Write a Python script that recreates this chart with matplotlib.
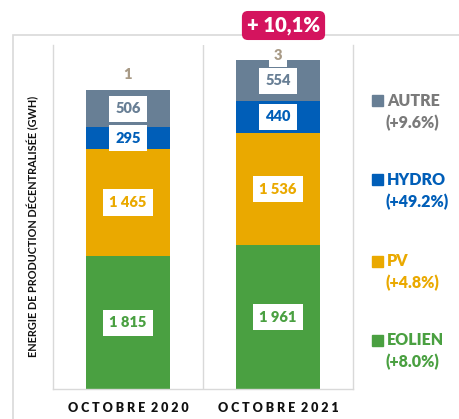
import numpy as np
import matplotlib.pyplot as plt
from matplotlib.patches import Rectangle

# data
months = ['OCTOBRE 2020', 'OCTOBRE 2021']
sources = ['EOLIEN', 'PV', 'HYDRO', 'AUTRE']
eolien = [1815, 1961]
pv = [1465, 1536]
hydro = [295, 440]
autre = [506, 554]
other_small = [1, 3]
growth = ['+8.0%', '+4.8%', '+49.2%', '+9.6%']
total_change = '+ 10,1%'

colors = ['#4AA041', '#EAA900', '#005EB8', '#687F95']
text_colors = ['#4AA041', '#EAA900', '#005EB8', '#7A7A7A']
small_color = '#A89A86'
W = 'heavy'


def fmt(v):
    return '{:,}'.format(v).replace(',', '\u00a0')


def main():
    plt.rcParams['font.family'] = ['Lato', 'DejaVu Sans']
    fig = plt.figure(figsize=(4.6, 4.19), dpi=100)
    ax = fig.add_axes([53 / 460, 30 / 419, 300 / 460, 344 / 419])

    # outer chart frame
    fig.patches.append(Rectangle((13 / 460, -0.1), 1.2, 1 - 35 / 419 + 0.1,
                                 transform=fig.transFigure, fill=False,
                                 edgecolor='#D9D9D9', linewidth=1.2, zorder=0))

    x = np.arange(len(months))
    width = 0.56
    series = [eolien, pv, hydro, autre]
    bottom = np.zeros(len(months))
    for vals, c in zip(series, colors):
        vals = np.array(vals)
        ax.bar(x, vals, width, bottom=bottom, color=c, zorder=2)
        for xi, b, v in zip(x, bottom, vals):
            ax.text(xi, b + v / 2, fmt(v), ha='center', va='center',
                    fontsize=10.5, fontweight=W, color=c, zorder=4,
                    bbox=dict(boxstyle='square,pad=0.45', fc='white', ec='none'))
        bottom = bottom + vals
    ax.bar(x, other_small, width, bottom=bottom, color=small_color, zorder=2)
    bottom = bottom + np.array(other_small)

    offsets = [6.5, -1.5]
    for xi, top, v, off in zip(x, bottom, other_small, offsets):
        ax.annotate(str(v), (xi, top), xytext=(0, off), textcoords='offset points',
                    ha='center', va='bottom', fontsize=10.5, fontweight=W,
                    color=small_color, zorder=5,
                    bbox=dict(boxstyle='square,pad=0.3', fc='white', ec='none'))

    ax.set_xlim(-0.5, 1.5)
    ax.set_ylim(0, 4700)
    ax.axvline(0.5, color='#D9D9D9', linewidth=1, zorder=1)
    ax.spines['top'].set_visible(False)
    for s in ['left', 'right', 'bottom']:
        ax.spines[s].set_color('#D9D9D9')
        ax.spines[s].set_linewidth(1)
    ax.set_yticks([])
    ax.set_xticks(x)
    ax.set_xticklabels([' '.join(m).replace('   ', '  ') for m in months],
                       fontsize=9, fontweight=W, color='#111111')
    ax.tick_params(axis='x', length=0, pad=9)

    fig.text(33 / 460, 1 - 226 / 419, 'ENERGIE DE PRODUCTION DÉCENTRALISÉE (GWH)',
             rotation=90, ha='center', va='center', fontsize=7.8,
             fontweight='bold', color='#111111')

    # change badge
    fig.text(283.5 / 460, 1 - 25.5 / 419, total_change, ha='center', va='center',
             fontsize=14.5, fontweight=W, color='white',
             bbox=dict(boxstyle='round,pad=0.25,rounding_size=0.3',
                       fc='#D4145E', ec='none'))

    # legend
    leg_y = [340, 261, 180, 101]
    for name, g, c, tc, yy in zip(sources, growth, colors, text_colors, leg_y):
        fig.patches.append(Rectangle((372 / 460, 1 - (yy + 5.5) / 419), 11 / 460, 11 / 419,
                                     transform=fig.transFigure, color=c))
        fig.text(387 / 460, 1 - yy / 419, name, ha='left', va='center',
                 fontsize=11.5, fontweight=W, color=tc)
        fig.text(386 / 460, 1 - (yy + 22) / 419, '(' + g + ')', ha='left', va='center',
                 fontsize=11.5, fontweight=W, color=tc)

    fig.savefig('out.png', dpi=100)


if __name__ == '__main__':
    main()
